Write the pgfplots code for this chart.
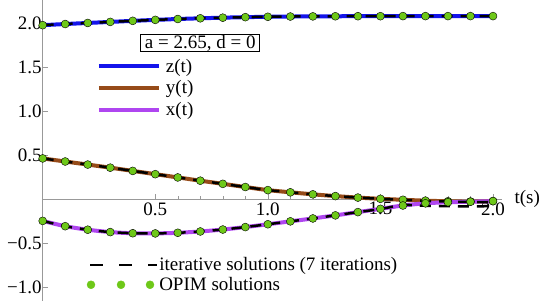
\documentclass[border=0pt]{standalone}
\usepackage{fontspec}
\setmainfont{Liberation Serif}
\usepackage{pgfplots}
\usepackage{pgfplotstable}
\pgfplotsset{compat=1.18}
\definecolor{zc}{RGB}{20,20,235}
\definecolor{yc}{RGB}{150,75,25}
\definecolor{xc}{RGB}{175,70,240}
\definecolor{gc}{RGB}{110,200,25}
\newcommand{\fs}{\fontsize{19bp}{22bp}\selectfont}

\pgfplotstableread{
t    z     y      x      xi     yi
0.0  1.974 0.460 -0.250 -0.250  0.460
0.1  1.987 0.425 -0.310 -0.310  0.425
0.2  1.999 0.390 -0.350 -0.350  0.390
0.3  2.011 0.355 -0.377 -0.377  0.355
0.4  2.023 0.318 -0.390 -0.390  0.318
0.5  2.034 0.281 -0.392 -0.392  0.281
0.6  2.044 0.244 -0.385 -0.385  0.244
0.7  2.052 0.207 -0.370 -0.370  0.207
0.8  2.059 0.171 -0.348 -0.348  0.171
0.9  2.065 0.135 -0.320 -0.320  0.135
1.0  2.069 0.100 -0.288 -0.288  0.100
1.1  2.072 0.075 -0.255 -0.255  0.075
1.2  2.074 0.052 -0.222 -0.222  0.052
1.3  2.075 0.032 -0.187 -0.187  0.032
1.4  2.076 0.015 -0.150 -0.150  0.015
1.5  2.076 0.001 -0.113 -0.115  0.001
1.6  2.077 -0.010 -0.075 -0.070 -0.010
1.7  2.077 -0.020 -0.050 -0.078 -0.022
1.8  2.077 -0.027 -0.038 -0.083 -0.030
1.9  2.077 -0.030 -0.032 -0.085 -0.035
2.0  2.077 -0.025 -0.025 -0.082 -0.035
}\data

\pgfplotsset{
  myaxis/.style={
    scale only axis, width=459.3bp, height=301bp,
    xmin=0, xmax=2.04, ymin=-1.16, ymax=2.26,
    at={(0,0)}, anchor=south west,
  }
}

\begin{document}
\begin{tikzpicture}
\begin{axis}[myaxis,
  axis lines=middle,
  axis line style={-, draw=black!40, line width=0.6bp},
  every tick/.style={draw=black!40, line width=0.5bp},
  major tick length=5bp, minor tick length=3bp,
  tick align=inside,
  minor tick num=4,
  xtick={0.5,1,1.5,2}, xticklabels={0.5,1.0,1.5,2.0},
  ytick={-1,-0.5,0.5,1,1.5,2}, yticklabels={−1.0,−0.5,0.5,1.0,1.5,2.0},
  tick label style={font=\fs},
  yticklabel style={xshift=2.5bp},
  xlabel={t(s)}, xlabel style={font=\fs, anchor=west, xshift=9bp},
  legend style={at={(axis cs:0.24,1.605)}, anchor=north west, draw=none, fill=none,
    inner sep=0pt, row sep=5bp, font=\fs, nodes={inner sep=1bp}},
  legend cell align=left,
  legend image code/.code={\draw[#1] (0bp,0bp) -- (60bp,0bp);},
]
\addplot[zc, line width=4bp, smooth] table[x=t,y=z]{\data};
\addlegendentry{\hspace{4bp}z(t)}
\addplot[yc, line width=4bp, smooth] table[x=t,y=y]{\data};
\addlegendentry{\hspace{4bp}y(t)}
\addplot[xc, line width=4bp, smooth] table[x=t,y=x]{\data};
\addlegendentry{\hspace{4bp}x(t)}
\node[draw=black, line width=1bp, fill=white, inner xsep=4bp, inner ysep=0.5bp, font=\fs] at (axis cs:0.70,1.77) {a = 2.65, d = 0};
\end{axis}

\begin{axis}[myaxis, hide axis,
  legend style={at={(axis cs:0.195,-0.655)}, anchor=north west, draw=none, fill=none,
    inner sep=0pt, row sep=3bp, font=\fs, nodes={inner sep=1bp}},
  legend cell align=left,
]
\addplot[black, line width=2.5bp, dash pattern=on 11bp off 8bp, smooth,
  legend image code/.code={\draw[black, line width=2.5bp, dash pattern=on 12.5bp off 16.5bp] (0bp,0bp) -- (67bp,0bp);}]
  table[x=t,y=z]{\data};
\addlegendentry{iterative solutions (7 iterations)}
\addplot[black, line width=2.5bp, dash pattern=on 11bp off 8bp, smooth, forget plot] table[x=t,y=yi]{\data};
\addplot[black, line width=2.5bp, dash pattern=on 11bp off 8bp, smooth, forget plot] table[x=t,y=xi]{\data};
\addplot[only marks, mark=*, mark size=4bp, mark options={draw=none, fill=gc},
  legend image code/.code={\fill[gc] (1bp,0bp) circle (4bp); \fill[gc] (31bp,0bp) circle (4bp); \fill[gc] (60bp,0bp) circle (4bp);}]
  table[x=t,y=z]{\data};
\addlegendentry{OPIM solutions}
\addplot[only marks, mark=*, mark size=4bp, mark options={draw=none, fill=gc}, forget plot] table[x=t,y=y]{\data};
\addplot[only marks, mark=*, mark size=4bp, mark options={draw=none, fill=gc}, forget plot] table[x=t,y=x]{\data};
\end{axis}
\pgfresetboundingbox
\path[use as bounding box] (-42.7bp,0bp) rectangle (507.3bp,301bp);
\end{tikzpicture}
\end{document}
